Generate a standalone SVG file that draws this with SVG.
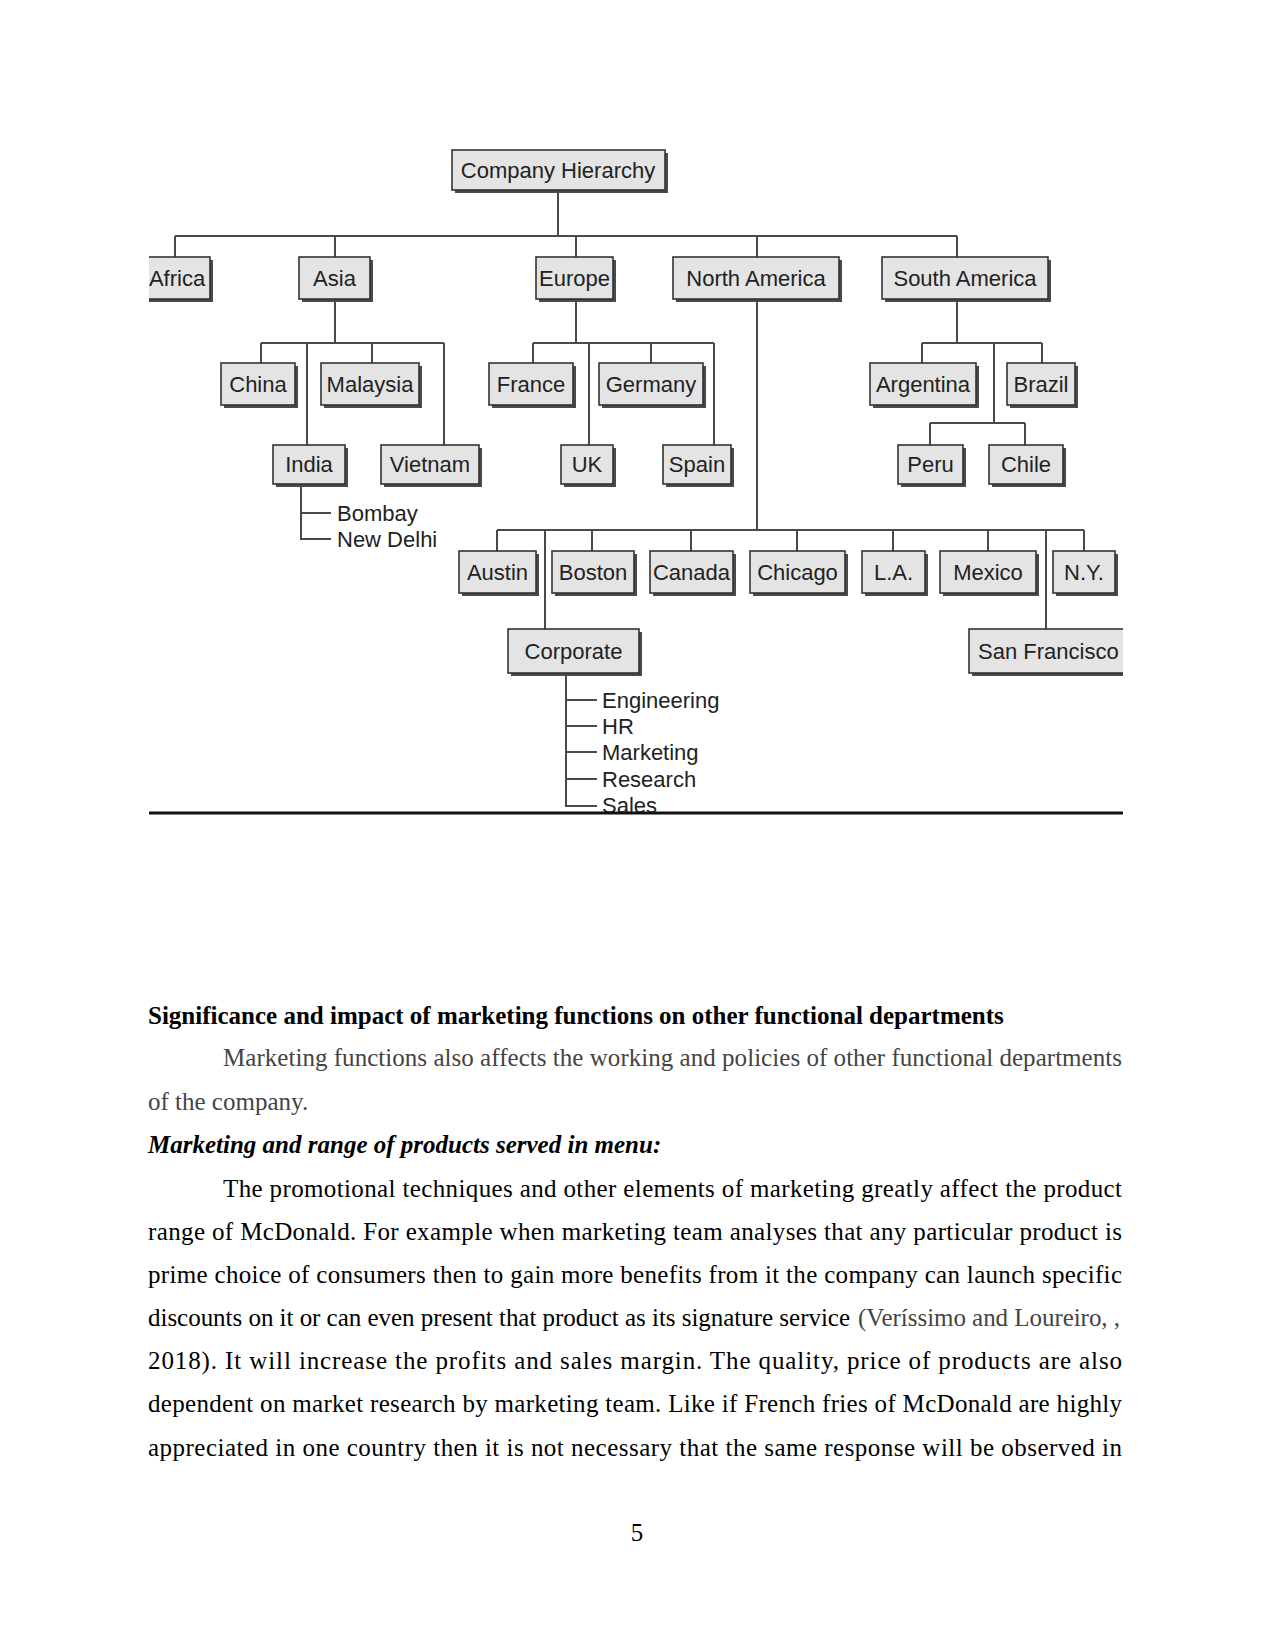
<svg xmlns="http://www.w3.org/2000/svg" width="1275" height="1650" viewBox="0 0 1275 1650">
<defs>
<clipPath id="clip"><rect x="149" y="0" width="974" height="812"/></clipPath>
<style>
.sh{fill:#4a4a4a}
.bx{fill:#e4e4e4;stroke:#333;stroke-width:1.6}
.lb{font-family:"Liberation Sans",Arial,sans-serif;font-size:22px;fill:#222;text-anchor:middle}
.sl{font-family:"Liberation Sans",Arial,sans-serif;font-size:22px;fill:#222}
.cn{fill:none;stroke:#4a4a4a;stroke-width:2}
.tx{font-family:"Liberation Serif","Times New Roman",serif;font-size:25px;fill:#000}
.gr{fill:#444}
.hd{font-weight:bold}
.hi{font-weight:bold;font-style:italic}
</style>
</defs>
<rect width="1275" height="1650" fill="#fff"/>
<g clip-path="url(#clip)">
<g id="connectors">
<path class="cn" d="M558 190V236M175 236H957M175 236V257M335 236V257M576 236V257M757 236V257M957 236V257"/>
<path class="cn" d="M335 299V343M261 343H444M261 343V363M307 343V445M372 343V363M444 343V445M301 484V539H331M301 513H331"/>
<path class="cn" d="M576 299V343M533 343H714M533 343V363M589 343V445M651 343V363M714 343V445"/>
<path class="cn" d="M957 299V343M922 343H1042M922 343V363M994 343V423M1042 343V363M930 423H1025M930 423V445M1025 423V445"/>
<path class="cn" d="M757 299V530M497 530H1084M497 530V551M592 530V551M691 530V551M797 530V551M893 530V551M988 530V551M1084 530V551M545 530V629M1046 530V629"/>
<path class="cn" d="M566 673V806H597M566 700H597M566 726H597M566 752H597M566 779H597"/>
</g>
<g id="company"><rect class="sh" x="455" y="153" width="213" height="40"/><rect class="bx" x="452" y="150" width="213" height="40"/><text class="lb" x="558" y="178">Company Hierarchy</text></g>
<g id="africa"><rect class="sh" x="118" y="260" width="95" height="42"/><rect class="bx" x="115" y="257" width="95" height="42"/><text class="lb" x="177" y="286">Africa</text></g>
<g id="asia"><rect class="sh" x="302" y="260" width="71" height="42"/><rect class="bx" x="299" y="257" width="71" height="42"/><text class="lb" x="334.5" y="286">Asia</text></g>
<g id="europe"><rect class="sh" x="539" y="260" width="77" height="42"/><rect class="bx" x="536" y="257" width="77" height="42"/><text class="lb" x="574.5" y="286">Europe</text></g>
<g id="north-america"><rect class="sh" x="676" y="260" width="166" height="42"/><rect class="bx" x="673" y="257" width="166" height="42"/><text class="lb" x="756" y="286">North America</text></g>
<g id="south-america"><rect class="sh" x="885" y="260" width="166" height="42"/><rect class="bx" x="882" y="257" width="166" height="42"/><text class="lb" x="965" y="286">South America</text></g>
<g id="china"><rect class="sh" x="224" y="366" width="74" height="42"/><rect class="bx" x="221" y="363" width="74" height="42"/><text class="lb" x="258" y="392">China</text></g>
<g id="malaysia"><rect class="sh" x="324" y="366" width="98" height="42"/><rect class="bx" x="321" y="363" width="98" height="42"/><text class="lb" x="370" y="392">Malaysia</text></g>
<g id="india"><rect class="sh" x="276" y="448" width="72" height="39"/><rect class="bx" x="273" y="445" width="72" height="39"/><text class="lb" x="309" y="472">India</text></g>
<g id="vietnam"><rect class="sh" x="384" y="448" width="98" height="39"/><rect class="bx" x="381" y="445" width="98" height="39"/><text class="lb" x="430" y="472">Vietnam</text></g>
<g id="india-cities"><text class="sl" x="337" y="521">Bombay</text><text class="sl" x="337" y="547">New Delhi</text></g>
<g id="france"><rect class="sh" x="492" y="366" width="84" height="42"/><rect class="bx" x="489" y="363" width="84" height="42"/><text class="lb" x="531" y="392">France</text></g>
<g id="germany"><rect class="sh" x="602" y="366" width="104" height="42"/><rect class="bx" x="599" y="363" width="104" height="42"/><text class="lb" x="651" y="392">Germany</text></g>
<g id="uk"><rect class="sh" x="564" y="448" width="52" height="39"/><rect class="bx" x="561" y="445" width="52" height="39"/><text class="lb" x="587" y="472">UK</text></g>
<g id="spain"><rect class="sh" x="666" y="448" width="68" height="39"/><rect class="bx" x="663" y="445" width="68" height="39"/><text class="lb" x="697" y="472">Spain</text></g>
<g id="argentina"><rect class="sh" x="873" y="366" width="106" height="42"/><rect class="bx" x="870" y="363" width="106" height="42"/><text class="lb" x="923" y="392">Argentina</text></g>
<g id="brazil"><rect class="sh" x="1010" y="366" width="68" height="42"/><rect class="bx" x="1007" y="363" width="68" height="42"/><text class="lb" x="1041" y="392">Brazil</text></g>
<g id="peru"><rect class="sh" x="901" y="448" width="65" height="39"/><rect class="bx" x="898" y="445" width="65" height="39"/><text class="lb" x="930.5" y="472">Peru</text></g>
<g id="chile"><rect class="sh" x="992" y="448" width="74" height="39"/><rect class="bx" x="989" y="445" width="74" height="39"/><text class="lb" x="1026" y="472">Chile</text></g>
<g id="austin"><rect class="sh" x="462" y="554" width="77" height="42"/><rect class="bx" x="459" y="551" width="77" height="42"/><text class="lb" x="497.5" y="580">Austin</text></g>
<g id="boston"><rect class="sh" x="555" y="554" width="82" height="42"/><rect class="bx" x="552" y="551" width="82" height="42"/><text class="lb" x="593" y="580">Boston</text></g>
<g id="canada"><rect class="sh" x="653" y="554" width="83" height="42"/><rect class="bx" x="650" y="551" width="83" height="42"/><text class="lb" x="691.5" y="580">Canada</text></g>
<g id="chicago"><rect class="sh" x="753" y="554" width="95" height="42"/><rect class="bx" x="750" y="551" width="95" height="42"/><text class="lb" x="797.5" y="580">Chicago</text></g>
<g id="la"><rect class="sh" x="865" y="554" width="63" height="42"/><rect class="bx" x="862" y="551" width="63" height="42"/><text class="lb" x="893.5" y="580">L.A.</text></g>
<g id="mexico"><rect class="sh" x="943" y="554" width="96" height="42"/><rect class="bx" x="940" y="551" width="96" height="42"/><text class="lb" x="988" y="580">Mexico</text></g>
<g id="ny"><rect class="sh" x="1056" y="554" width="62" height="42"/><rect class="bx" x="1053" y="551" width="62" height="42"/><text class="lb" x="1084" y="580">N.Y.</text></g>
<g id="corporate"><rect class="sh" x="511" y="632" width="131" height="44"/><rect class="bx" x="508" y="629" width="131" height="44"/><text class="lb" x="573.5" y="659">Corporate</text></g>
<g id="san-francisco"><rect class="sh" x="972" y="632" width="170" height="44"/><rect class="bx" x="969" y="629" width="170" height="44"/><text class="sl" x="978" y="659">San Francisco</text></g>
<g id="corporate-depts"><text class="sl" x="602" y="708">Engineering</text><text class="sl" x="602" y="734">HR</text><text class="sl" x="602" y="760">Marketing</text><text class="sl" x="602" y="787">Research</text><text class="sl" x="602" y="813">Sales</text></g>
</g>
<line x1="149" y1="813" x2="1123" y2="813" stroke="#111" stroke-width="3"/>
<g id="body">
<text class="tx hd" x="148" y="1024">Significance and impact of marketing functions on other functional departments</text>
<text class="tx gr" x="223" y="1066" textLength="899" lengthAdjust="spacing">Marketing functions also affects the working and policies of other functional departments</text>
<text class="tx gr" x="148" y="1110">of the company.</text>
<text class="tx hi" x="148" y="1153">Marketing and range of products served in menu:</text>
<text class="tx" x="223" y="1197" textLength="899" lengthAdjust="spacing">The promotional techniques and other elements of marketing greatly affect the product</text>
<text class="tx" x="148" y="1240" textLength="974" lengthAdjust="spacing">range of McDonald. For example when marketing team analyses that any particular product is</text>
<text class="tx" x="148" y="1283" textLength="974" lengthAdjust="spacing">prime choice of consumers then to gain more benefits from it the company can launch specific</text>
<text class="tx" x="148" y="1326" textLength="702" lengthAdjust="spacing">discounts on it or can even present that product as its signature service</text>
<text class="tx gr" x="858" y="1326" textLength="262" lengthAdjust="spacing">(Veríssimo and Loureiro, ,</text>
<text class="tx" x="148" y="1369" textLength="974" lengthAdjust="spacing">2018). It will increase the profits and sales margin. The quality, price of products are also</text>
<text class="tx" x="148" y="1412" textLength="974" lengthAdjust="spacing">dependent on market research by marketing team. Like if French fries of McDonald are highly</text>
<text class="tx" x="148" y="1456" textLength="974" lengthAdjust="spacing">appreciated in one country then it is not necessary that the same response will be observed in</text>
<text class="tx" x="637" y="1541" text-anchor="middle">5</text>
</g>
</svg>
